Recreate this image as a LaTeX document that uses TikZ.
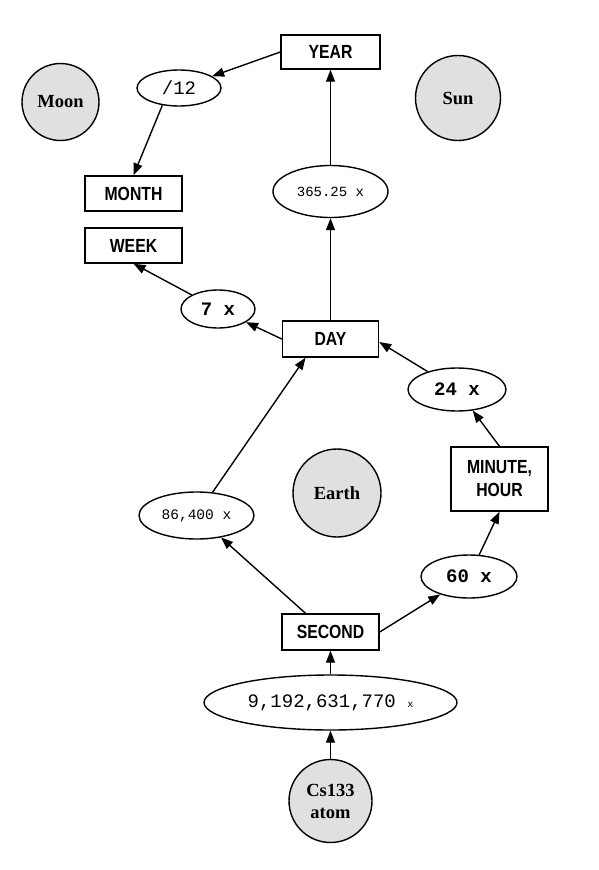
\documentclass[tikz,border=0pt]{standalone}
\usepackage{fontspec}
\setmainfont{Liberation Serif}
\newfontfamily\boxfont[FakeStretch=0.83]{Liberation Sans}
\newfontfamily\monofont{Liberation Mono}
\usetikzlibrary{arrows.meta,shapes.geometric,calc}
\definecolor{planet}{RGB}{224,224,224}
\tikzset{
  unitbox/.style={draw,line width=1.4pt,rectangle,minimum width=97pt,minimum height=35pt,inner sep=0pt,align=center,font=\boxfont\bfseries\fontsize{19}{23}\selectfont},
  factor/.style={draw,line width=1.4pt,ellipse,inner sep=0pt,font=\monofont\fontsize{19}{22}\selectfont},
  planetnode/.style={draw,line width=1.4pt,circle,fill=planet,inner sep=0pt,align=center,font=\bfseries\fontsize{18.5}{22}\selectfont},
  conn/.style={line width=1.4pt,-{Triangle[length=12pt,width=9pt]}}
}
\begin{document}
\begin{tikzpicture}[x=1pt,y=-1pt]
\useasboundingbox (0,0) rectangle (599,870);
% boxes
\node[unitbox,minimum width=99pt,minimum height=34pt] (year) at (330.5,52) {YEAR};
\node[unitbox] (month) at (133.5,193.5) {MONTH};
\node[unitbox] (week) at (133.5,245.5) {WEEK};
\node[unitbox,minimum width=96pt,minimum height=36pt] (day) at (330.5,339) {DAY};
\node[unitbox,minimum height=64pt] (minute) at (499.5,479) {MINUTE,\\HOUR};
\node[unitbox,minimum height=36pt] (second) at (330.5,632) {SECOND};
% ellipses
\node[factor,minimum width=84pt,minimum height=36pt] (m12) at (179,88) {/12};
\node[factor,minimum width=115pt,minimum height=52pt,font=\monofont\fontsize{14}{16}\selectfont] (y365) at (330.5,191.5) {365.25 x};
\node[factor,minimum width=74pt,minimum height=38pt,font=\monofont\bfseries\fontsize{19}{22}\selectfont] (d7) at (218,309) {7 x};
\node[factor,minimum width=98pt,minimum height=43pt,font=\monofont\bfseries\fontsize{19}{22}\selectfont] (h24) at (457,389.5) {24 x};
\node[factor,minimum width=115pt,minimum height=47pt,font=\monofont\fontsize{14.5}{16}\selectfont] (s86) at (196.5,515.5) {86,400 x};
\node[factor,minimum width=96pt,minimum height=43pt,font=\monofont\bfseries\fontsize{19}{22}\selectfont] (m60) at (469,576.5) {60 x};
\node[factor,minimum width=253pt,minimum height=55pt] (cs) at (330.5,702.5) {9,192,631,770 {\fontsize{10}{12}\selectfont x}};
% planets
\node[planetnode,minimum size=77pt] (moon) at (60.5,102) {Moon};
\node[planetnode,minimum size=85pt] (sun) at (458,98) {Sun};
\node[planetnode,minimum size=88pt] (earth) at (337,493) {Earth};
\node[planetnode,minimum size=83pt] (atom) at (330.5,801) {Cs133\\atom};
% connectors
\draw[conn] (year.west) -- (m12);
\draw[conn] (m12.226) -- (month.north);
\draw[conn] (y365) -- (year);
\draw[conn] (day) -- (y365);
\draw[conn] (day.west) -- (d7);
\draw[conn] (d7) -- (week.south);
\coordinate (dayright) at ([yshift=-3pt]day.east);
\draw[conn] (h24) -- (dayright);
\draw[conn] (minute.north) -- (h24);
\draw[conn] (m60) -- (minute.south);
\draw[conn] (second.east) -- (m60);
\coordinate (secleft) at ([xshift=-25pt]second.north);
\coordinate (dayleft) at ([xshift=-25pt]day.south);
\draw[conn] (secleft) -- (s86);
\draw[conn] (s86) -- (dayleft);
\draw[conn] (cs) -- (second);
\draw[conn] (atom) -- (cs);
\end{tikzpicture}
\end{document}
